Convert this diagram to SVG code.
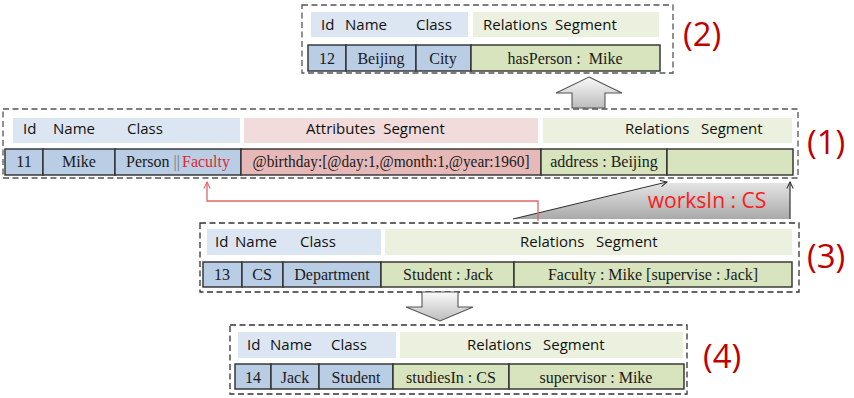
<svg xmlns="http://www.w3.org/2000/svg" width="854" height="398" viewBox="0 0 854 398">
  <style>
    .frame { fill: none; stroke: #555; stroke-width: 1.3; stroke-dasharray: 6 3.5; }
    .frame.dk { stroke: #333; }
    .hb { fill: #dce6f2; }
    .hp { fill: #f2dcdb; }
    .hg { fill: #ebf1de; }
    .db { fill: #b9cde5; stroke: #2e2e2e; stroke-width: 1.4; }
    .dp { fill: #e6b9b8; stroke: #2e2e2e; stroke-width: 1.4; }
    .dg { fill: #d7e4bd; stroke: #2e2e2e; stroke-width: 1.4; }
    .ht { font-family: "Open Sans", "Liberation Sans", sans-serif; font-size: 15px; fill: #111; white-space: pre; }
    .dt { font-family: "Liberation Serif", "Times New Roman", serif; font-size: 16px; fill: #1a1a1a; text-anchor: middle; white-space: pre; }
    .tag { font-family: "Open Sans", "Liberation Sans", sans-serif; font-size: 33px; fill: #c00000; }
    .blk { fill: url(#blockGrad); stroke: #555; stroke-width: 1.1; }
    .ln { fill: none; stroke: #333; stroke-width: 1.2; }
    .rd { fill: none; stroke: #e06666; stroke-width: 1.3; }
  </style>
  <defs>
    <linearGradient id="blockGrad" x1="0" y1="0" x2="0" y2="1">
      <stop offset="0" stop-color="#fafafa"/>
      <stop offset="1" stop-color="#bcbcbc"/>
    </linearGradient>
    <linearGradient id="calloutGrad" x1="0" y1="0" x2="0" y2="1">
      <stop offset="0" stop-color="#e4e4e4"/>
      <stop offset="1" stop-color="#a9a9a9"/>
    </linearGradient>
    <marker id="openHead" viewBox="0 0 10 10" refX="9" refY="5" markerWidth="8" markerHeight="8" markerUnits="userSpaceOnUse" orient="auto">
      <path d="M1,1 L9,5 L1,9" fill="none" stroke="#333" stroke-width="1.3"/>
    </marker>
    <marker id="openHeadRed" viewBox="0 0 10 10" refX="9" refY="5" markerWidth="8" markerHeight="8" markerUnits="userSpaceOnUse" orient="auto">
      <path d="M1,1 L9,5 L1,9" fill="none" stroke="#e06666" stroke-width="1.3"/>
    </marker>
  </defs>

  <rect width="854" height="398" fill="#ffffff"/>

  <!-- record 12: Beijing -->
  <g id="record-2">
    <rect class="frame" x="302" y="5" width="371" height="68"/>
    <rect class="hb" x="311" y="12" width="157" height="25"/>
    <rect class="hg" x="473" y="12" width="186" height="25"/>
    <text class="ht" x="321" y="30">Id</text>
    <text class="ht" x="345" y="30">Name</text>
    <text class="ht" x="416" y="30">Class</text>
    <text class="ht" x="483" y="30">Relations&#160; Segment</text>
    <rect class="db" x="308" y="45" width="38" height="26"/>
    <rect class="db" x="346" y="45" width="70" height="26"/>
    <rect class="db" x="416" y="45" width="55" height="26"/>
    <rect class="dg" x="471" y="45" width="189" height="26"/>
    <text class="dt" x="327" y="64">12</text>
    <text class="dt" x="381" y="64">Beijing</text>
    <text class="dt" x="443" y="64">City</text>
    <text class="dt" x="565" y="64">hasPerson :&#160; Mike</text>
    <text class="tag" x="683" y="46">(2)</text>
  </g>

  <!-- record 11: Mike -->
  <g id="record-1">
    <rect class="frame" x="3" y="109" width="795" height="69"/>
    <rect class="hb" x="13" y="118" width="227" height="25"/>
    <rect class="hp" x="244" y="118" width="294" height="25"/>
    <rect class="hg" x="543" y="118" width="249" height="25"/>
    <text class="ht" x="23" y="134">Id</text>
    <text class="ht" x="53" y="134">Name</text>
    <text class="ht" x="127" y="134">Class</text>
    <text class="ht" x="306" y="134">Attributes&#160; Segment</text>
    <text class="ht" x="625" y="134">Relations&#160;&#160; Segment</text>
    <rect class="db" x="5" y="149" width="38" height="26"/>
    <rect class="db" x="43" y="149" width="72" height="26"/>
    <rect class="db" x="115" y="149" width="126" height="26"/>
    <rect class="dp" x="241" y="149" width="300" height="26"/>
    <rect class="dg" x="541" y="149" width="126" height="26"/>
    <rect class="dg" x="667" y="149" width="126" height="26"/>
    <text class="dt" x="24" y="167">11</text>
    <text class="dt" x="79" y="167">Mike</text>
    <text class="dt" x="178" y="167">Person <tspan fill="#777">||</tspan><tspan fill="#e0282e" dx="2">Faculty</tspan></text>
    <text class="dt" x="391" y="167" textLength="277" lengthAdjust="spacingAndGlyphs">@birthday:[@day:1,@month:1,@year:1960]</text>
    <text class="dt" x="604" y="167">address : Beijing</text>
    <text class="tag" x="807" y="154">(1)</text>
  </g>

  <!-- record 13: CS -->
  <g id="record-3">
    <rect class="frame dk" x="200" y="223" width="599" height="69"/>
    <rect class="hb" x="207" y="229" width="174" height="26"/>
    <rect class="hg" x="385" y="229" width="407" height="26"/>
    <text class="ht" x="215" y="247">Id</text>
    <text class="ht" x="235" y="247">Name</text>
    <text class="ht" x="300" y="247">Class</text>
    <text class="ht" x="520" y="247">Relations&#160;&#160; Segment</text>
    <rect class="db" x="203" y="262" width="39" height="25"/>
    <rect class="db" x="242" y="262" width="41" height="25"/>
    <rect class="db" x="283" y="262" width="98" height="25"/>
    <rect class="dg" x="381" y="262" width="133" height="25"/>
    <rect class="dg" x="514" y="262" width="278" height="25"/>
    <text class="dt" x="222" y="280">13</text>
    <text class="dt" x="262" y="280">CS</text>
    <text class="dt" x="332" y="280">Department</text>
    <text class="dt" x="448" y="280">Student : Jack</text>
    <text class="dt" x="653" y="280">Faculty : Mike [supervise : Jack]</text>
    <text class="tag" x="807" y="268">(3)</text>
  </g>

  <!-- record 14: Jack -->
  <g id="record-4">
    <rect class="frame dk" x="230" y="325" width="457" height="69"/>
    <rect class="hb" x="238" y="332" width="158" height="26"/>
    <rect class="hg" x="400" y="332" width="283" height="26"/>
    <text class="ht" x="247" y="350">Id</text>
    <text class="ht" x="270" y="350">Name</text>
    <text class="ht" x="331" y="350">Class</text>
    <text class="ht" x="467" y="350">Relations&#160;&#160; Segment</text>
    <rect class="db" x="235" y="364" width="36" height="25"/>
    <rect class="db" x="271" y="364" width="48" height="25"/>
    <rect class="db" x="319" y="364" width="74" height="25"/>
    <rect class="dg" x="393" y="364" width="116" height="25"/>
    <rect class="dg" x="509" y="364" width="175" height="25"/>
    <text class="dt" x="253" y="383">14</text>
    <text class="dt" x="295" y="383">Jack</text>
    <text class="dt" x="356" y="383">Student</text>
    <text class="dt" x="451" y="383">studiesIn : CS</text>
    <text class="dt" x="596" y="383">supervisor : Mike</text>
    <text class="tag" x="703" y="368">(4)</text>
  </g>

  <!-- connectors -->
  <g id="connectors">
    <!-- block arrows between records -->
    <path class="blk" d="M589,77 L622,93 L605,93 L605,108 L572,108 L572,93 L556,93 Z"/>
    <path class="blk" d="M422,292 L458,292 L458,307 L473,307 L440,321 L406,307 L422,307 Z"/>
    <!-- worksIn callout -->
    <path d="M513,219 L667,183 L790,183 L790,219 Z" fill="url(#calloutGrad)"/>
    <line class="ln" x1="513" y1="219" x2="667" y2="182" marker-end="url(#openHead)"/>
    <line class="ln" x1="790" y1="219" x2="790" y2="182" marker-end="url(#openHead)"/>
    <text x="707" y="208" text-anchor="middle" font-family="'Open Sans', 'Liberation Sans', sans-serif" font-size="21" fill="#ff1a1a">worksIn : CS</text>
    <!-- class link back to Faculty -->
    <path class="rd" d="M538,221 V201 H207 V182" marker-end="url(#openHeadRed)"/>
  </g>
</svg>
